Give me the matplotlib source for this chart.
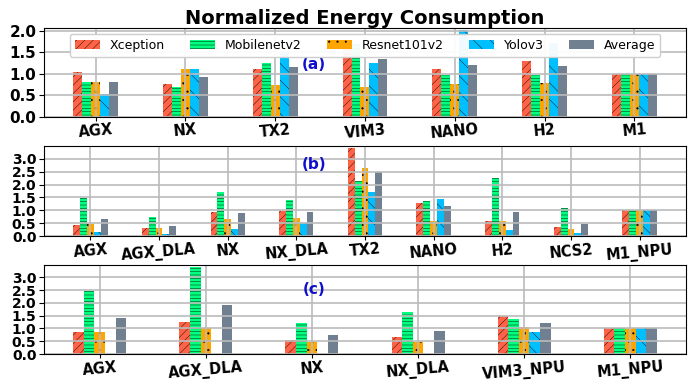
"""Normalized energy consumption, three panels."""
import matplotlib

matplotlib.use("Agg")
import matplotlib.pyplot as plt  # noqa: E402
import numpy as np  # noqa: E402

models = ["Xception", "Mobilenetv2", "Resnet101v2", "Yolov3", "Average"]

devices_a = ["AGX", "NX", "TX2", "VIM3", "NANO", "H2", "M1"]
xception_a = [1.05, 0.75, 1.10, 1.75, 1.10, 1.30, 1.0]
mobilenet_a = [0.80, 0.68, 1.25, 1.70, 0.98, 0.96, 1.0]
resnet_a = [0.80, 1.12, 0.73, 0.68, 0.75, 0.78, 1.0]
yolo_a = [0.52, 1.12, 1.52, 1.26, 2.02, 1.72, 1.0]
average_a = [0.80, 0.92, 1.15, 1.35, 1.21, 1.19, 1.0]

devices_b = ["AGX", "AGX_DLA", "NX", "NX_DLA", "TX2", "NANO", "H2", "NCS2", "M1_NPU"]
xception_b = [0.45, 0.30, 0.92, 0.96, 3.40, 1.30, 0.60, 0.35, 1.0]
mobilenet_b = [1.49, 0.75, 1.72, 1.42, 2.14, 1.37, 2.26, 1.10, 1.0]
resnet_b = [0.48, 0.30, 0.65, 0.72, 2.65, 0.57, 0.57, 0.27, 1.0]
yolo_b = [0.18, 0.10, 0.26, 0.52, 1.72, 1.45, 0.22, 0.12, 1.0]
average_b = [0.65, 0.38, 0.88, 0.92, 2.50, 1.18, 0.92, 0.46, 1.0]

devices_c = ["AGX", "AGX_DLA", "NX", "NX_DLA", "VIM3_NPU", "M1_NPU"]
xception_c = [0.88, 1.27, 0.53, 0.65, 1.50, 1.0]
mobilenet_c = [2.48, 3.42, 1.22, 1.65, 1.38, 1.0]
resnet_c = [0.88, 1.02, 0.48, 0.46, 1.07, 1.0]
yolo_c = [0.0, 0.0, 0.0, 0.0, 0.85, 1.0]
average_c = [1.42, 1.92, 0.76, 0.92, 1.20, 1.0]

colors = ["tomato", "springgreen", "orange", "deepskyblue", "slategray"]
hatches = ["////", "-----", "..", "\\\\", ""]

plt.rcParams["hatch.linewidth"] = 0.3
plt.rcParams["font.weight"] = "bold"


def draw(ax, devices, series, ylim, tag, tag_y, ysize):
    x = np.arange(len(devices))
    w = 0.1
    for i, vals in enumerate(series):
        ax.bar(x + (i - 2) * w, vals, w, color=colors[i], hatch=hatches[i],
               label=models[i])
    ax.set_xticks(x)
    ax.set_xticklabels(devices, rotation=5, fontsize=10.5, fontweight="bold")
    ax.set_ylim(*ylim)
    ax.tick_params(axis="y", labelsize=ysize, pad=2)
    ax.tick_params(axis="x", pad=1, length=3)
    for t in ax.get_yticklabels():
        t.set_fontweight("bold")
    ax.grid(True, color="#bbbbbb", linewidth=1.2)
    ax.text(0.42, tag_y, tag, transform=ax.transAxes, color="#1010cc",
            fontsize=11, fontweight="bold", ha="center", va="center")


fig = plt.figure(figsize=(6.88, 3.84), dpi=100)
ax_a = fig.add_axes([0.064, 0.696, 0.933, 0.232])
ax_b = fig.add_axes([0.064, 0.385, 0.933, 0.235])
ax_c = fig.add_axes([0.064, 0.078, 0.933, 0.233])

draw(ax_a, devices_a, [xception_a, mobilenet_a, resnet_a, yolo_a, average_a],
     (0, 2.07), "(a)", 0.59, 11)
ax_a.set_yticks([0.0, 0.5, 1.0, 1.5, 2.0])
draw(ax_b, devices_b, [xception_b, mobilenet_b, resnet_b, yolo_b, average_b],
     (0, 3.5), "(b)", 0.79, 10)
draw(ax_c, devices_c, [xception_c, mobilenet_c, resnet_c, yolo_c, average_c],
     (0, 3.5), "(c)", 0.72, 10)
for ax in (ax_b, ax_c):
    ax.set_yticks([0.0, 0.5, 1.0, 1.5, 2.0, 2.5, 3.0])

leg = ax_a.legend(loc="upper center", ncol=5, framealpha=0.95,
                  prop={"size": 9, "weight": "normal"})
ax_a.set_title("Normalized Energy Consumption", fontsize=14, fontweight="bold",
               pad=2)

fig.savefig("out.png", dpi=100)
